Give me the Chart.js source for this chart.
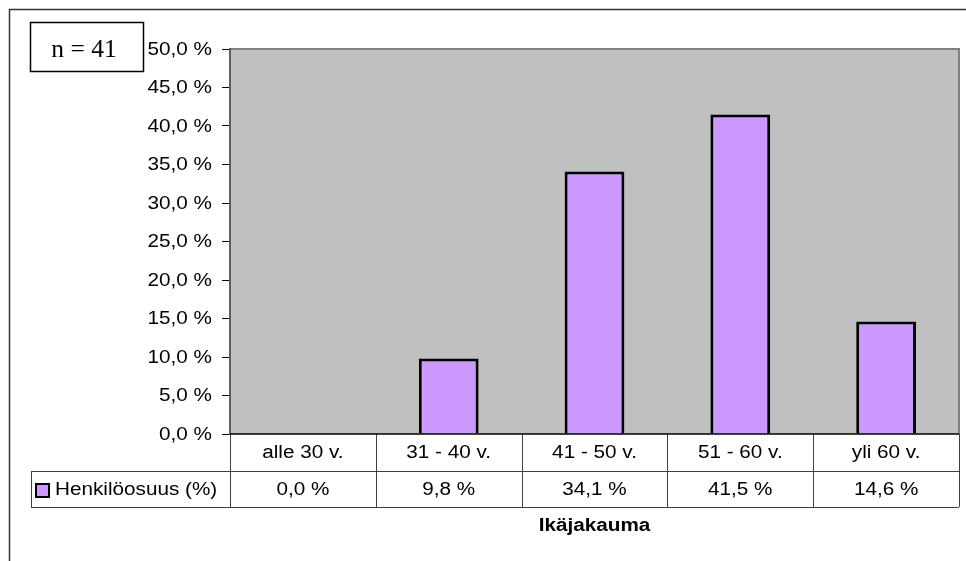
<!DOCTYPE html>
<html>
<head>
<meta charset="utf-8">
<script src="https://cdn.jsdelivr.net/npm/chart.js@4/dist/chart.umd.min.js"></script>
<style>
  body { margin: 0; background: #fff; }
</style>
</head>
<body>
<canvas id="myChart" width="966" height="561"></canvas>
<script>
const categories = ["alle 30 v.", "31 - 40 v.", "41 - 50 v.", "51 - 60 v.", "yli 60 v."]
const shares = [0.0, 9.8, 34.1, 41.5, 14.6]
const seriesName = "Henkilöosuus (%)"
const axisTitle = "Ikäjakauma"
const sampleNote = "n = 41"

const fmt = v => v.toFixed(1).replace(".", ",") + " %"
const sans = "'Liberation Sans', Arial, sans-serif"
const textFont = "18px " + sans
const stretch = 1.15

// text in the original is a bit wider than Arial, so squash it sideways
function label(ctx, text, x, y, align, font, sx) {
  ctx.save()
  ctx.font = font
  ctx.textAlign = align
  ctx.textBaseline = "middle"
  ctx.fillStyle = "#000"
  ctx.translate(x, y)
  ctx.scale(sx, 1)
  ctx.fillText(text, 0, 0)
  ctx.restore()
}

// grey plot area + outer frame + n box
const background = {
  id: "background",
  beforeDraw(chart) {
    const {ctx, chartArea: a} = chart
    ctx.save()
    ctx.fillStyle = "#fff"
    ctx.fillRect(0, 0, chart.width, chart.height)
    ctx.fillStyle = "#c0c0c0"
    ctx.fillRect(a.left, a.top, a.right - a.left, a.bottom - a.top)
    ctx.strokeStyle = "#808080"
    ctx.lineWidth = 2
    ctx.beginPath()
    ctx.moveTo(a.left, a.top)
    ctx.lineTo(a.right, a.top)
    ctx.lineTo(a.right, a.bottom)
    ctx.stroke()

    ctx.strokeStyle = "#333"
    ctx.lineWidth = 1.5
    ctx.beginPath()
    ctx.moveTo(9.5, chart.height)
    ctx.lineTo(9.5, 9.5)
    ctx.lineTo(chart.width, 9.5)
    ctx.stroke()

    ctx.strokeStyle = "#000"
    ctx.lineWidth = 1.5
    ctx.strokeRect(30.5, 22.5, 113, 49)
    ctx.restore()
    label(ctx, sampleNote, 84, 50, "center", "25px 'Liberation Serif', 'Times New Roman', serif", 1.02)
  }
}

// y tick labels, data table, legend key, axis title
const dataTable = {
  id: "dataTable",
  afterDraw(chart) {
    const {ctx, chartArea: a, scales: {x, y}} = chart
    y.ticks.forEach(t => {
      label(ctx, fmt(t.value), 212, y.getPixelForValue(t.value) + 1, "right", textFont, stretch)
    })

    const step = (a.right - a.left) / categories.length
    const r0 = a.bottom, r1 = a.bottom + 37, r2 = a.bottom + 73
    ctx.save()
    ctx.strokeStyle = "#404040"
    ctx.lineWidth = 1
    ctx.beginPath()
    ctx.moveTo(31, r1 + 0.5); ctx.lineTo(a.right, r1 + 0.5)
    ctx.moveTo(31, r2 + 0.5); ctx.lineTo(a.right, r2 + 0.5)
    ctx.moveTo(31.5, r1); ctx.lineTo(31.5, r2)
    for (let i = 0; i <= categories.length; i++) {
      const px = Math.round(a.left + i * step) + 0.5
      ctx.moveTo(px, r0); ctx.lineTo(px, r2)
    }
    ctx.stroke()

    ctx.strokeStyle = "#000"
    ctx.lineWidth = 1.5
    ctx.beginPath()
    ctx.moveTo(a.left, r0); ctx.lineTo(a.right, r0)
    ctx.stroke()

    ctx.fillStyle = "#cc99ff"
    ctx.fillRect(36, 484, 13, 13)
    ctx.strokeStyle = "#000"
    ctx.lineWidth = 2
    ctx.strokeRect(36, 484, 13, 13)
    ctx.restore()

    categories.forEach((c, i) => {
      const cx = x.getPixelForValue(i)
      label(ctx, c, cx, (r0 + r1) / 2 + 1, "center", textFont, stretch)
      label(ctx, fmt(shares[i]), cx, (r1 + r2) / 2 + 1, "center", textFont, stretch)
    })
    label(ctx, seriesName, 55, (r1 + r2) / 2 + 1, "left", textFont, stretch)
    label(ctx, axisTitle, (a.left + a.right) / 2, 526, "center", "bold 18px " + sans, stretch)
  }
}

const data = {
  labels: categories,
  datasets: [{
    label: seriesName,
    data: shares,
    backgroundColor: "#cc99ff",
    borderColor: "#000",
    borderWidth: 3,
    categoryPercentage: 1,
    barPercentage: 0.41
  }]
}

const options = {
  responsive: false,
  animation: false,
  layout: { padding: { left: 0, top: 49, right: 7, bottom: 127 } },
  plugins: {
    legend: { display: false },
    tooltip: { enabled: false }
  },
  scales: {
    x: { display: false },
    y: {
      min: 0,
      max: 50,
      afterFit: s => { s.width = 230 },
      ticks: {
        stepSize: 5,
        padding: 10,
        color: "rgba(0,0,0,0)",
        font: { family: sans, size: 16 },
        callback: v => fmt(v)
      },
      grid: {
        drawOnChartArea: false,
        tickLength: 8,
        color: "#000"
      },
      border: { color: "#606060", width: 2 }
    }
  }
}

const config = {
  type: "bar",
  data: data,
  options: options,
  plugins: [background, dataTable]
}

const chart = new Chart(document.querySelector("#myChart"), config)
</script>
</body>
</html>
